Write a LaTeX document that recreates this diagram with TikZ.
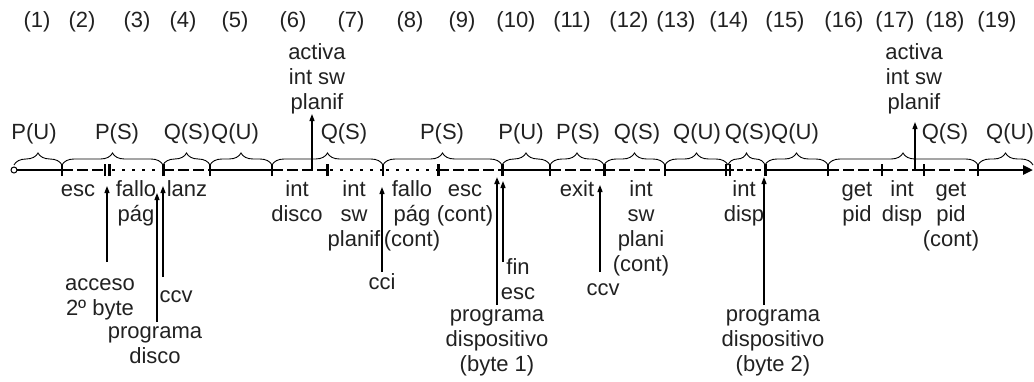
\documentclass[tikz,border=0pt]{standalone}
\usepackage{fontspec}
\setmainfont{Liberation Sans}
\usetikzlibrary{decorations.pathreplacing,arrows.meta}
\definecolor{ink}{gray}{0.13}
\begin{document}
\begin{tikzpicture}[x=1pt,y=-1pt,
  lbl/.style={font=\fontsize{22}{25}\selectfont, inner sep=0pt, align=center, text=ink, text height=16pt, text depth=5pt},
  brc/.style={decorate, decoration={brace, amplitude=12pt}, line width=0.9pt},
  solidseg/.style={line width=2.6pt},
  dashseg/.style={line width=2.6pt, dash pattern=on 11pt off 4pt},
  fineseg/.style={line width=2.6pt, dash pattern=on 6pt off 3pt},
  dotseg/.style={line width=2.6pt, dash pattern=on 3pt off 7pt},
  thintick/.style={line width=1.3pt},
  thicktick/.style={line width=3pt},
  arr/.style={-{Triangle[length=7pt,width=5pt]}, line width=1.2pt},
  arrb/.style={-{Triangle[length=7pt,width=5pt]}, line width=2pt},
]
\useasboundingbox (0,0) rectangle (1034,381);

% ---- time line points
\foreach \n/\x in {0/14,1/62,2/105,3/109,4/163,5/210,6/272,7/327,8/383,9/438,10/502,11/550,12/604,13/665,14/728,15/765,16/828,17/882,18/924,19/978,20/1033}
  \coordinate (t\n) at (\x,170);

% ---- segments
\draw[solidseg] (t0) -- (t1);
\draw[dashseg] (t1) -- (t2);
\draw[dotseg] ([xshift=3pt]t3) -- (t4);
\draw[dashseg] (t4) -- (t5);
\draw[solidseg] (t5) -- (t6);
\draw[dashseg] (t6) -- (t7);
\draw[dotseg] ([xshift=3pt]t7) -- (t8);
\draw[dotseg] ([xshift=3pt]t8) -- (t9);
\draw[dashseg] (t9) -- (t10);
\draw[solidseg] (t10) -- (t11);
\draw[dashseg] (t11) -- (t12);
\draw[dashseg] (t12) -- (t13);
\draw[solidseg] (t13) -- (t14);
\draw[fineseg] (t14) -- (t15);
\draw[solidseg] (t15) -- (t16);
\draw[dashseg] (t16) -- (t17);
\draw[dashseg] (t17) -- (t18);
\draw[dashseg] (t18) -- (t19);
\draw[solidseg, -{Triangle[length=10pt,width=9pt]}] (t19) -- (t20);

% ---- ticks
\foreach \n in {1,2,5,6,8,11,13,16,17,18,19}
  \draw[thintick] ([yshift=-6pt]t\n) -- ([yshift=6pt]t\n);
\foreach \n in {3,4,7,9,10,12,15}
  \draw[thicktick] ([yshift=-6pt]t\n) -- ([yshift=6pt]t\n);
\draw[thintick] ([xshift=-2pt,yshift=-6pt]t14) -- ([xshift=-2pt,yshift=6pt]t14);
\draw[thintick] ([xshift=2pt,yshift=-6pt]t14) -- ([xshift=2pt,yshift=6pt]t14);
\node[circle, draw, line width=1pt, fill=white, inner sep=0pt, minimum size=6pt] (start) at (t0) {};

% ---- braces
\foreach \a/\b in {0/1,1/4,4/5,5/6,6/8,8/10,10/11,11/12,12/13,13/14,14/15,15/16,16/19,19/20}
  \draw[brc] ([yshift=5pt]t\a) -- ([yshift=5pt]t\b);

% ---- top numbers
\foreach \i/\x in {1/37,2/82,3/137,4/183,5/235,6/293,7/351,8/410,9/462,10/516,11/572,12/629,13/676,14/729,15/785,16/844,17/895,18/945,19/997}
  \node[lbl] (n\i) at (\x,22) {(\i)};

% ---- state labels
\foreach \i/\x/\t in {1/34/P(U),2/117/P(S),3/187/Q(S),4/235/Q(U),5/344/Q(S),6/442/P(S),7/521/P(U),8/578/P(S),9/637/Q(S),10/697/Q(U),11/748/Q(S),12/795/Q(U),13/945/Q(S),14/1010/Q(U)}
  \node[lbl] (s\i) at (\x,133.5) {\t};

% ---- labels above (node y = centre of last line)
\node[lbl] (act1) at (317,103.5) {activa\\int sw\\planif};
\node[lbl] (act2) at (914,103.5) {activa\\int sw\\planif};

% ---- labels below the line
\node[lbl] (esc) at (78,190.5) {esc};
\node[lbl] (fallo) at (136,215.5) {fallo\\pág};
\node[lbl] (lanz) at (187,190.5) {lanz};
\node[lbl] (intdisco) at (297,215.5) {int\\disco};
\node[lbl] (intsw) at (354,240.5) {int\\sw\\planif};
\node[lbl] (fallo2) at (412,240.5) {fallo\\pág\\(cont)};
\node[lbl] (esc2) at (465,215.5) {esc\\(cont)};
\node[lbl] (exit) at (577,190.5) {exit};
\node[lbl] (intsw2) at (641,265.5) {int\\sw\\plani\\(cont)};
\node[lbl] (intdisp) at (744,215.5) {int\\disp};
\node[lbl] (getpid) at (857,215.5) {get\\pid};
\node[lbl] (intdisp2) at (902,215.5) {int\\disp};
\node[lbl] (getpid2) at (951,240.5) {get\\pid\\(cont)};

% ---- bottom labels
\node[lbl] (acceso) at (100,309.5) {acceso\\2º byte};
\node[lbl] (ccv1) at (176,297) {ccv};
\node[lbl] (progdisco) at (155,358) {programa\\disco};
\node[lbl] (cci) at (382,284) {cci};
\node[lbl] (finesc) at (518,293.5) {fin\\esc};
\node[lbl] (prog1) at (497,366) {programa\\dispositivo\\(byte 1)};
\node[lbl] (ccv2) at (603,290) {ccv};
\node[lbl] (prog2) at (773,366) {programa\\dispositivo\\(byte 2)};

% ---- arrow ends
\coordinate (a1s) at (107,262); \coordinate (a1e) at (107,186);
\coordinate (a2s) at (157,322); \coordinate (a2e) at (157,193);
\coordinate (a3s) at (163,277); \coordinate (a3e) at (163,186);
\coordinate (a4s) at (382,272); \coordinate (a4e) at (382,187);
\coordinate (a5s) at (497,305); \coordinate (a5e) at (497,177);
\coordinate (a6s) at (503,262); \coordinate (a6e) at (503,181);
\coordinate (a7s) at (600,272); \coordinate (a7e) at (600,185);
\coordinate (a8s) at (764,305); \coordinate (a8e) at (764,177);
\coordinate (a9s) at (312,170); \coordinate (a9e) at (312,114);
\coordinate (a10s) at (915,170); \coordinate (a10e) at (915,122);

\draw[arr] (a1s) -- (a1e);
\draw[arr] (a2s) -- (a2e);
\draw[arr] (a3s) -- (a3e);
\draw[arr] (a4s) -- (a4e);
\draw[arrb] (a5s) -- (a5e);
\draw[arr] (a6s) -- (a6e);
\draw[arr] (a7s) -- (a7e);
\draw[arr] (a8s) -- (a8e);
\draw[arr] (a9s) -- (a9e);
\draw[arr] (a10s) -- (a10e);
\end{tikzpicture}
\end{document}
